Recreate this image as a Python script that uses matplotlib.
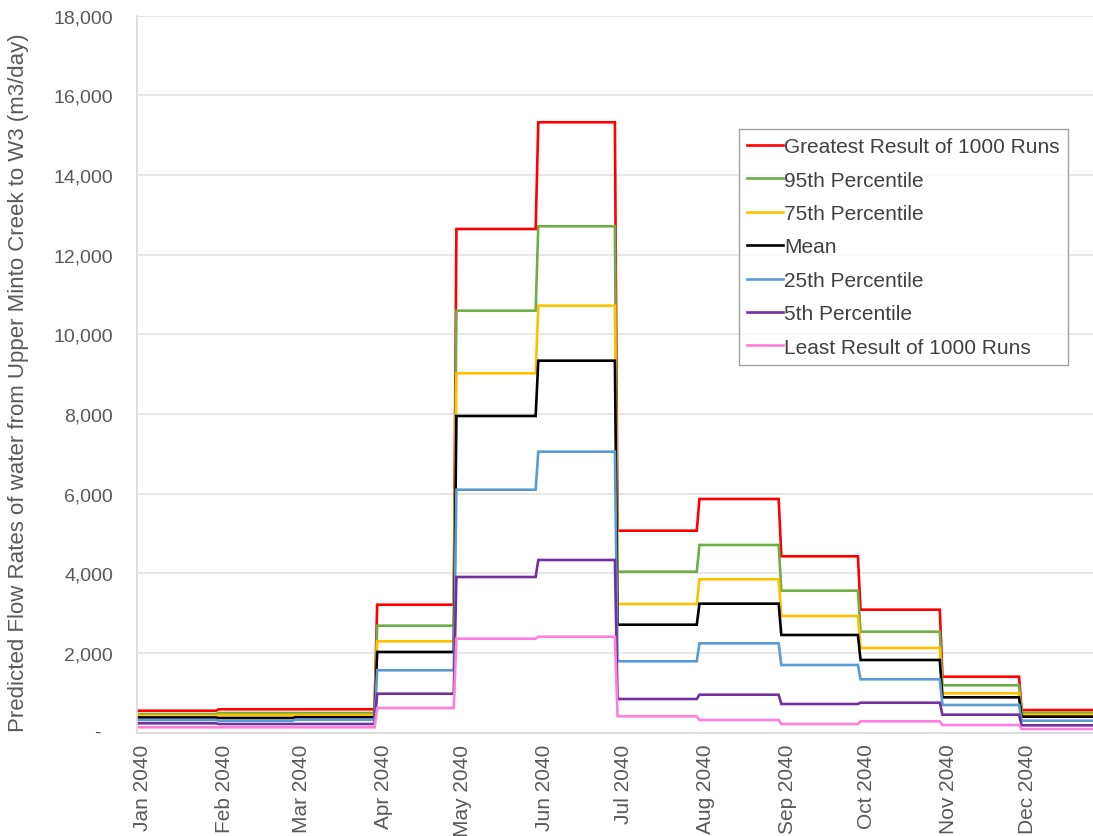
import datetime as dt
import matplotlib
matplotlib.use("Agg")
import matplotlib.pyplot as plt
from matplotlib.transforms import ScaledTranslation

plt.rcParams["font.family"] = ["Liberation Sans", "DejaVu Sans"]

# Monthly predicted flow rates (m3/day) for 2040
months = ["Jan 2040", "Feb 2040", "Mar 2040", "Apr 2040", "May 2040", "Jun 2040",
          "Jul 2040", "Aug 2040", "Sep 2040", "Oct 2040", "Nov 2040", "Dec 2040"]
greatest = [547, 583, 583, 3209, 12644, 15324, 5068, 5864, 4425, 3084, 1401, 565]
p95 = [465, 490, 490, 2682, 10593, 12712, 4038, 4709, 3561, 2531, 1185, 497]
p75 = [422, 440, 440, 2290, 9021, 10718, 3227, 3847, 2926, 2122, 984, 447]
mean = [377, 364, 382, 2022, 7948, 9337, 2707, 3235, 2449, 1821, 884, 397]
p25 = [314, 296, 321, 1562, 6097, 7052, 1788, 2240, 1695, 1336, 691, 296]
p5 = [231, 213, 213, 974, 3905, 4332, 841, 949, 716, 748, 447, 181]
least = [131, 131, 131, 615, 2356, 2406, 407, 314, 213, 281, 188, 88]

series_names = ["Greatest Result of 1000 Runs", "95th Percentile", "75th Percentile",
                "Mean", "25th Percentile", "5th Percentile", "Least Result of 1000 Runs"]
series_values = [greatest, p95, p75, mean, p25, p5, least]
series_colors = ["#FF0000", "#70AD47", "#FFC000", "#000000", "#5B9BD5", "#7030A0", "#FF80DC"]

# month start dates and last day of each month
starts = [dt.date(2040, m, 1) for m in range(1, 13)]
ends = [s - dt.timedelta(days=1) for s in starts[1:]] + [dt.date(2040, 12, 31)]


def daily_steps(values):
    xs, ys = [], []
    for s, e, v in zip(starts, ends, values):
        xs += [s, e]
        ys += [v, v]
    return xs, ys


W, H = 1093, 837
fig = plt.figure(figsize=(W / 100, H / 100), dpi=100)
left_px, zero_px, top_px = 136.8, 733.5, 16.7
ax = fig.add_axes([left_px / W, 1 - zero_px / H, 1 - left_px / W, (zero_px - top_px) / H])

for name, vals, col in zip(series_names, series_values, series_colors):
    xs, ys = daily_steps(vals)
    ax.plot(xs, ys, color=col, lw=1.9, label=name, solid_joinstyle="miter")

ax.set_ylim(0, 18000)
ax.set_xlim(dt.date(2040, 1, 1), dt.date(2040, 12, 28))

grey_text = "#595959"
yt = list(range(0, 18001, 2000))
ax.set_yticks(yt)
ax.set_yticklabels(["" if v == 0 else f"{v:,}" for v in yt])
ax.annotate("-", xy=(0, 0), xycoords=("axes fraction", "data"), xytext=(-36, 0),
            textcoords="offset pixels", ha="right", va="center", fontsize=14, color=grey_text)
ax.set_xticks(starts)
ax.set_xticklabels(months, rotation=90)
ax.tick_params(axis="y", length=0, pad=17, labelsize=14, labelcolor=grey_text)
ax.tick_params(axis="x", length=0, pad=8, labelsize=15, labelcolor=grey_text)
shift = ScaledTranslation(6 / 100, 0, fig.dpi_scale_trans)
for lab in ax.get_xticklabels():
    lab.set_transform(lab.get_transform() + shift)

ax.grid(axis="y", color="#E3E3E3", lw=1.2)
ax.set_axisbelow(True)
for side in ["top", "right"]:
    ax.spines[side].set_visible(False)
for side in ["left", "bottom"]:
    ax.spines[side].set_color("#D9D9D9")
    ax.spines[side].set_linewidth(1.2)

ax.set_ylabel("Predicted Flow Rates of water from Upper Minto Creek to W3 (m3/day)",
              fontsize=16, color=grey_text)
ax.yaxis.set_label_coords((29 - left_px) / (W - left_px), 0.49)

leg = ax.legend(loc="upper left", bbox_to_anchor=(739 / W, 1 - 130 / H),
                bbox_transform=fig.transFigure, fontsize=15, frameon=True, fancybox=False,
                borderpad=0.4, labelspacing=0.69, handlelength=1.7, handletextpad=0.05,
                borderaxespad=0)
leg.get_frame().set_edgecolor("#8C8C8C")
leg.get_frame().set_linewidth(1.0)
for t in leg.get_texts():
    t.set_color("#404040")

fig.savefig("out.png", dpi=100)
